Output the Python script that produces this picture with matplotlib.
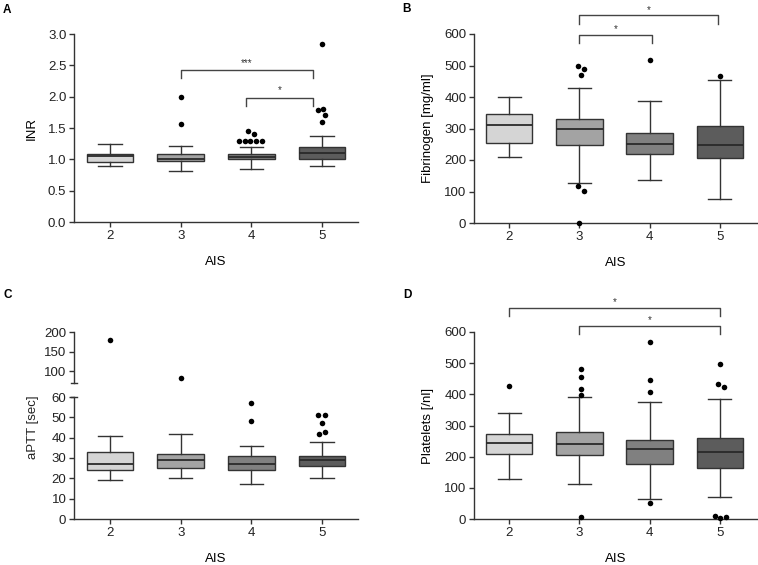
import matplotlib
matplotlib.use("Agg")
import matplotlib.pyplot as plt
import numpy as np

plt.rcParams['font.family'] = ['Liberation Sans', 'DejaVu Sans']

# ---------------- data ----------------
categories = ["2", "3", "4", "5"]

# INR (panel A): whisker low, Q1, median, Q3, whisker high
inr_whislo = [0.90, 0.82, 0.84, 0.89]
inr_q1 = [0.95, 0.98, 1.00, 1.00]
inr_med = [1.05, 1.00, 1.04, 1.10]
inr_q3 = [1.09, 1.09, 1.09, 1.19]
inr_whishi = [1.25, 1.22, 1.20, 1.38]
inr_outliers = [[], [2.00, 1.56], [1.46, 1.40, 1.30, 1.30, 1.30, 1.30, 1.30], [2.84, 1.79, 1.80, 1.70, 1.60]]
inr_out_dx = [[], [0, 0], [-0.04, 0.04, -0.17, -0.095, -0.02, 0.07, 0.15], [0, -0.05, 0.02, 0.04, 0]]

# Fibrinogen (panel B)
fib_whislo = [210, 127, 138, 76]
fib_q1 = [255, 247, 220, 205]
fib_med = [310, 300, 251, 249]
fib_q3 = [345, 329, 287, 307]
fib_whishi = [399, 429, 386, 455]
fib_outliers = [[], [498, 489, 469, 116, 103, 1], [518], [466]]
fib_out_dx = [[], [-0.02, 0.06, 0.02, -0.02, 0.06, 0.0], [0], [0]]

# aPTT (panel C)
aptt_whislo = [19, 20, 17, 20]
aptt_q1 = [24, 25, 24, 26]
aptt_med = [27, 29, 27, 29]
aptt_q3 = [33, 32, 31, 31]
aptt_whishi = [41, 42, 36, 38]
aptt_outliers = [[180], [84], [57, 48], [51, 51, 47, 42, 43]]
aptt_out_dx = [[0], [0], [0, 0], [-0.05, 0.04, 0, -0.04, 0.04]]

# Platelets (panel D)
plt_whislo = [129, 112, 64, 71]
plt_q1 = [210, 205, 176, 165]
plt_med = [244, 240, 223, 214]
plt_q3 = [274, 280, 253, 261]
plt_whishi = [341, 390, 374, 386]
plt_outliers = [[428], [480, 457, 418, 398, 7], [567, 447, 408, 51], [497, 432, 424, 11, 2, 5]]
plt_out_dx = [[0], [0.02, 0.02, 0.02, 0.02, 0.02], [0, 0, 0, 0], [0, -0.03, 0.06, -0.07, 0, 0.09]]

# significance annotations: (x_start, x_end, y_top, drop, label)
sig_A = [(1, 2.88, 2.42, 0.13, "***"), (1.93, 2.88, 1.98, 0.13, "*")]
sig_B = [(1, 2.04, 597, 25, "*"), (1, 2.97, 659, 27, "*")]
sig_D = [(0, 3, 678, 28, "*"), (1, 3, 619, 24, "*")]

# ---------------- style ----------------
box_colors = ["#d5d5d5", "#a3a3a3", "#808080", "#5c5c5c"]
line_c = "#333333"
FS = 9.5
W, H = 758, 565
fig = plt.figure(figsize=(W / 100, H / 100), dpi=100)

def px_axes(l, r, t, b):
    return fig.add_axes([l / W, 1 - b / H, (r - l) / W, (b - t) / H])

def style_ax(ax, bottom=True):
    for s in ["top", "right"]:
        ax.spines[s].set_visible(False)
    for s in ["left", "bottom"]:
        ax.spines[s].set_linewidth(1.0)
        ax.spines[s].set_color(line_c)
    ax.tick_params(direction="out", length=3.5, width=1.0, color=line_c,
                   labelsize=FS, labelcolor="#222222", pad=2)
    if not bottom:
        ax.spines["bottom"].set_visible(False)
        ax.tick_params(axis="x", bottom=False, labelbottom=False)

def draw_boxes(ax, wl, q1, med, q3, wh):
    stats = []
    for i in range(len(categories)):
        stats.append(dict(whislo=wl[i], q1=q1[i], med=med[i], q3=q3[i],
                          whishi=wh[i], fliers=[], label=categories[i]))
    bp = ax.bxp(stats, positions=np.arange(len(categories)), widths=0.66,
                patch_artist=True, showfliers=False, capwidths=0.33,
                boxprops=dict(linewidth=1.0, edgecolor=line_c),
                whiskerprops=dict(linewidth=1.0, color=line_c),
                capprops=dict(linewidth=1.0, color=line_c),
                medianprops=dict(linewidth=1.3, color="#2a2a2a"))
    for patch, c in zip(bp["boxes"], box_colors):
        patch.set_facecolor(c)
    return bp

def draw_outliers(ax, outliers, dx, maxval=None, minval=None):
    for i, (vals, offs) in enumerate(zip(outliers, dx)):
        for v, o in zip(vals, offs):
            if maxval is not None and v > maxval:
                continue
            if minval is not None and v < minval:
                continue
            ax.scatter(i + o, v, s=16, color="black", zorder=5, linewidths=0, clip_on=False)

def draw_sig(ax, sigs, txt_off):
    for x0, x1, y, d, lab in sigs:
        ax.plot([x0, x0, x1, x1], [y - d, y, y, y - d], color="#444444", lw=1.0, clip_on=False)
        ax.text((x0 + x1) / 2, y + txt_off, lab, ha="center", va="center", fontsize=7, color="#333333")

# ---------- Panel A ----------
axA = px_axes(74, 358, 34, 222)
draw_boxes(axA, inr_whislo, inr_q1, inr_med, inr_q3, inr_whishi)
draw_outliers(axA, inr_outliers, inr_out_dx)
axA.set_xlim(-0.51, 3.51)
axA.set_ylim(0, 3.0)
axA.set_yticks(np.arange(0, 3.01, 0.5))
axA.set_yticklabels([f"{v:.1f}" for v in np.arange(0, 3.01, 0.5)])
axA.set_xticks(range(4))
axA.set_xticklabels(categories)
style_ax(axA)
axA.set_xlabel("AIS", fontsize=FS, labelpad=10.5)
axA.set_ylabel("INR", fontsize=FS, labelpad=7)
draw_sig(axA, sig_A, 0.12)

# ---------- Panel B ----------
axB = px_axes(474, 757, 34, 223)
draw_boxes(axB, fib_whislo, fib_q1, fib_med, fib_q3, fib_whishi)
draw_outliers(axB, fib_outliers, fib_out_dx)
axB.set_xlim(-0.5, 3.53)
axB.set_ylim(0, 600)
axB.set_yticks(range(0, 601, 100))
axB.set_xticks(range(4))
axB.set_xticklabels(categories)
style_ax(axB)
axB.set_xlabel("AIS", fontsize=FS, labelpad=10.5)
axB.set_ylabel("Fibrinogen [mg/ml]", fontsize=FS, labelpad=7)
draw_sig(axB, sig_B, 18)

# ---------- Panel C (broken axis) ----------
axC = px_axes(74, 358, 397, 519)
axCt = px_axes(74, 358, 332, 383)
draw_boxes(axC, aptt_whislo, aptt_q1, aptt_med, aptt_q3, aptt_whishi)
draw_outliers(axC, aptt_outliers, aptt_out_dx, maxval=60)
draw_outliers(axCt, aptt_outliers, aptt_out_dx, minval=70)
axC.set_xlim(-0.51, 3.51)
axCt.set_xlim(-0.51, 3.51)
axC.set_ylim(0, 60)
axCt.set_ylim(70, 200)
axC.set_yticks(range(0, 61, 10))
axCt.set_yticks([100, 150, 200])
axC.set_xticks(range(4))
axC.set_xticklabels(categories)
style_ax(axC)
style_ax(axCt, bottom=False)
axCt.patch.set_alpha(0)
# break marks at the axis ends
tr_c = axC.get_yaxis_transform()
axC.plot([-0.012, 0.012], [60, 60], transform=tr_c, color=line_c, lw=1.0, clip_on=False)
tr_ct = axCt.get_yaxis_transform()
axCt.plot([-0.012, 0.012], [70, 70], transform=tr_ct, color=line_c, lw=1.0, clip_on=False)
axC.set_xlabel("AIS", fontsize=FS, labelpad=10.5)
fig.text(33 / W, 1 - 427 / H, "aPTT [sec]", rotation=90, ha="center", va="center",
         fontsize=FS, color="#222222")

# ---------- Panel D ----------
axD = px_axes(474, 757, 332, 519)
draw_boxes(axD, plt_whislo, plt_q1, plt_med, plt_q3, plt_whishi)
draw_outliers(axD, plt_outliers, plt_out_dx)
axD.set_xlim(-0.5, 3.53)
axD.set_ylim(0, 600)
axD.set_yticks(range(0, 601, 100))
axD.set_xticks(range(4))
axD.set_xticklabels(categories)
style_ax(axD)
axD.set_xlabel("AIS", fontsize=FS, labelpad=10.5)
axD.set_ylabel("Platelets [/nl]", fontsize=FS, labelpad=7)
draw_sig(axD, sig_D, 18)

# panel letters
for lab, x, y in [("A", 3, 4), ("B", 402, 3), ("C", 3, 289), ("D", 403, 289)]:
    fig.text(x / W, 1 - y / H, lab, ha="left", va="top", fontsize=8.5, fontweight="bold")

fig.savefig("out.png", dpi=100)
